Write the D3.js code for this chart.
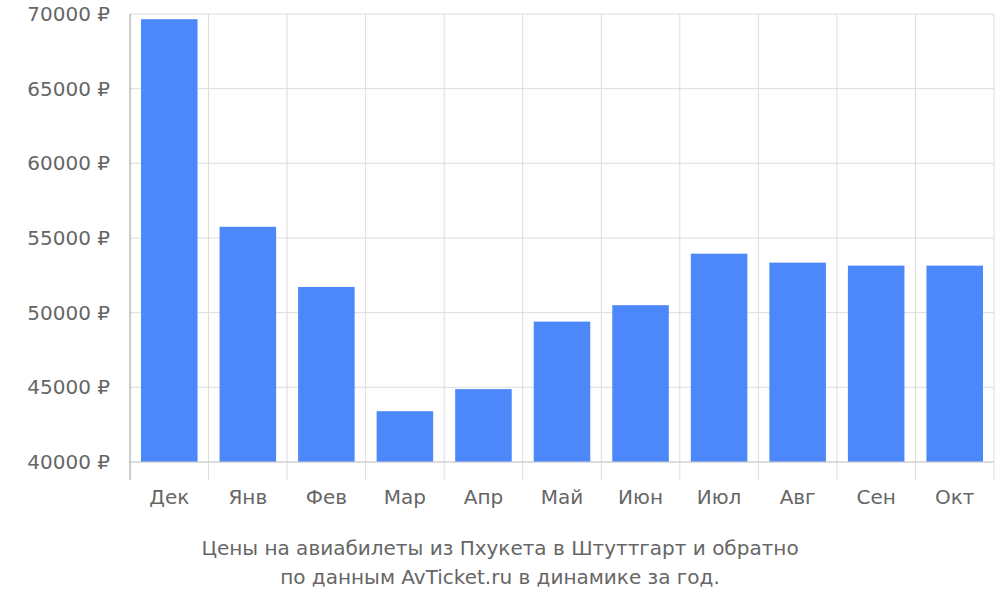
<!DOCTYPE html>
<html><head><meta charset="utf-8">
<script src="https://cdn.jsdelivr.net/npm/d3@7"></script>
<style>body{margin:0;background:#fff}text{font-family:"DejaVu Sans",sans-serif;fill:#666}</style>
</head><body><div id="chart"></div>
<script>
let months = ['Дек', 'Янв', 'Фев', 'Мар', 'Апр', 'Май', 'Июн', 'Июл', 'Авг', 'Сен', 'Окт']
let prices = [69650, 55750, 51720, 43400, 44880, 49400, 50500, 53950, 53350, 53150, 53150]
let yTicks = [40000, 45000, 50000, 55000, 60000, 65000, 70000]
let titleLines = ['Цены на авиабилеты из Пхукета в Штуттгарт и обратно', 'по данным AvTicket.ru в динамике за год.']

let margin = { top: 14, right: 6, bottom: 138, left: 130 }
let width = 1000 - margin.left - margin.right
let height = 600 - margin.top - margin.bottom

let svg = d3.select('#chart').append('svg').attr('width', 1000).attr('height', 600)
let g = svg.append('g').attr('transform', 'translate(' + margin.left + ',' + margin.top + ')')

let x = d3.scaleBand().domain(months).range([0, width]).paddingInner(0.28).paddingOuter(0.14)
let y = d3.scaleLinear().domain([40000, 70000]).range([height, 0])

// grid
g.selectAll('.hg').data(yTicks).enter().append('line')
	.attr('x1', 0).attr('x2', width)
	.attr('y1', d => y(d)).attr('y2', d => y(d))
	.attr('stroke', '#ddd')
let step = x.step()
let edges = d3.range(1, months.length + 1).map(i => i * step)
g.selectAll('.vg').data(edges).enter().append('line')
	.attr('x1', d => d).attr('x2', d => d)
	.attr('y1', 0).attr('y2', height + 18)
	.attr('stroke', '#ddd')

g.selectAll('.bar').data(prices).enter().append('rect')
	.attr('x', (d, i) => x(months[i]))
	.attr('width', x.bandwidth())
	.attr('y', d => y(d))
	.attr('height', d => height - y(d))
	.attr('fill', '#4d88fb')

g.append('line').attr('x1', 0).attr('x2', 0).attr('y1', 0).attr('y2', height + 18).attr('stroke', '#999')
g.append('line').attr('x1', 0).attr('x2', width).attr('y1', height).attr('y2', height).attr('stroke', '#ccc')

g.selectAll('.yl').data(yTicks).enter().append('text')
	.attr('x', -20).attr('y', d => y(d) + 7)
	.attr('text-anchor', 'end').attr('font-size', 20)
	.text(d => d + ' ₽')

g.selectAll('.xl').data(months).enter().append('text')
	.attr('x', d => x(d) + x.bandwidth() / 2).attr('y', height + 42)
	.attr('text-anchor', 'middle').attr('font-size', 20)
	.text(d => d)

svg.selectAll('.title').data(titleLines).enter().append('text')
	.attr('x', 500).attr('y', (d, i) => 555 + i * 29)
	.attr('text-anchor', 'middle').attr('font-size', 20)
	.text(d => d)
</script></body></html>
